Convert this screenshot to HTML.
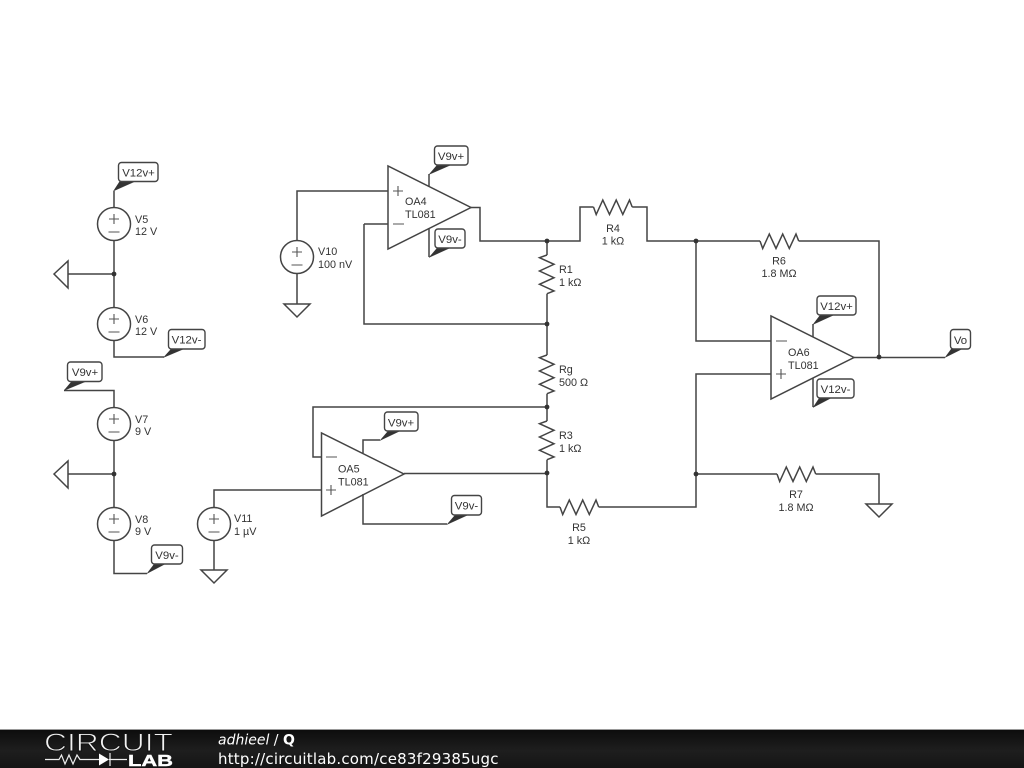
<!DOCTYPE html>
<html><head><meta charset="utf-8"><title>Q</title>
<style>
html,body{margin:0;padding:0;background:#fff;width:1024px;height:768px;overflow:hidden}
svg{display:block}
.w{fill:none;stroke:#444;stroke-width:1.5}
.s{fill:none;stroke:#555;stroke-width:1.1}
.t{font-family:"Liberation Sans",sans-serif;font-size:10.8px;fill:#333}
.l{font-size:11.4px}
.c{text-anchor:middle}
.b{fill:#fff;stroke:#444;stroke-width:1.4}
.f{fill:#333;stroke:#333;stroke-width:0.4}
.d{fill:#333;stroke:none}
</style></head><body>
<svg width="1024" height="768" viewBox="0 0 1024 768" xmlns="http://www.w3.org/2000/svg">
<defs><linearGradient id="g" x1="0" y1="0" x2="0" y2="1"><stop offset="0" stop-color="#0c0c0c"/><stop offset="0.55" stop-color="#1e1e1e"/><stop offset="1" stop-color="#151515"/></linearGradient></defs>
<rect width="1024" height="768" fill="#fff"/>

<!-- left supplies -->
<path class="w" d="M114 208V191M114 240V308M114 340V357H164M54 274L68 261V288ZM68 274H114M114 408V390.500H64M114 440V508M114 540V573.500H147M54 474L68 461V488ZM68 474H114"/>
<circle class="w" cx="114" cy="224" r="16.5"/><circle class="w" cx="114" cy="324" r="16.5"/>
<circle class="w" cx="114" cy="424" r="16.5"/><circle class="w" cx="114" cy="524" r="16.5"/>
<path class="s" d="M109 219H119M114 214V224M108.500 232H119.500M109 319H119M114 314V324M108.500 332H119.500M109 419H119M114 414V424M108.500 432H119.500M109 519H119M114 514V524M108.500 532H119.500"/>

<!-- V10, V11 -->
<path class="w" d="M297 241V191H388M297 273V304M284 304H310L297 317ZM214 508V490H321M214 540V570M201 570H227L214 583Z"/>
<circle class="w" cx="297" cy="257" r="16.5"/><circle class="w" cx="214" cy="524" r="16.5"/>
<path class="s" d="M292 252H302M297 247V257M291.500 265H302.500M209 519H219M214 514V524M208.500 532H219.500"/>

<!-- op amps -->
<path class="w" d="M388 166V249L471 207.500ZM771 316V399L854 357.500ZM321.500 433V516L404 474Z"/>
<path class="s" d="M393 191H403M398 186V196M393 224H404M776 341H787M776 374H786M781 369V379M326 457H337M326 490H336M331 485V495"/>

<!-- main wiring -->
<path class="w" d="M364 224H388M364 224V324H547M471 207.500H480V241H580V207H593.500M632.200 207H647V241H760M798.700 241H879V357M547 241V255M547 293.700V355M547 393.700V421M547 459.700V507H560M598.700 507H696V374H771M696 241V341H771M696 474H777M815.700 474H879V504M866 504H892L879 517ZM854 357.500H945M404 473.500H547M321 457H313V407H547M429 187V174M429 228V257M813 337V324M813 378V407M363 453V440H380M363 494V524H447"/>

<!-- resistors -->
<polyline class="w" points="593.500,207 596.200,214.500 602.800,200 609.500,214.500 616.200,200 622.800,214.500 629.500,200 632.200,207"/>
<polyline class="w" points="560,507 562.700,514.500 569.300,500 576,514.500 582.700,500 589.300,514.500 596,500 598.700,507"/>
<polyline class="w" points="760,241 762.700,248.500 769.300,234 776,248.500 782.700,234 789.300,248.500 796,234 798.700,241"/>
<polyline class="w" points="777,474 779.700,481.500 786.300,467 793,481.500 799.700,467 806.300,481.500 813,467 815.700,474"/>
<polyline class="w" points="547,255 539.500,257.700 554,264.300 539.500,271 554,277.700 539.500,284.300 554,291 547,293.700"/>
<polyline class="w" points="547,355 539.500,357.700 554,364.300 539.500,371 554,377.700 539.500,384.300 554,391 547,393.700"/>
<polyline class="w" points="547,421 539.500,423.700 554,430.300 539.500,437 554,443.700 539.500,450.300 554,457 547,459.700"/>

<!-- junction dots -->
<g class="d"><circle cx="114" cy="274" r="2.400"/><circle cx="114" cy="474" r="2.400"/><circle cx="547" cy="241" r="2.400"/><circle cx="547" cy="324" r="2.400"/><circle cx="547" cy="407" r="2.400"/><circle cx="547" cy="473" r="2.400"/><circle cx="696" cy="241" r="2.400"/><circle cx="696" cy="474" r="2.400"/><circle cx="879" cy="357" r="2.400"/></g>

<!-- net flags -->
<path class="f" d="M113.500 191L120 181H136ZM163.500 357.500L172 348H186ZM64 390.500L72 381H87ZM147 573.500L155 563H167ZM429 174.500L438 164H453ZM429 257.500L438 247H452ZM813 324.500L821 314H836ZM813 407.500L820 397H833ZM380 440.500L389 430H402ZM447 524.500L456 514H470ZM945 357.500L952 348H964Z"/>
<g class="b">
<rect x="118.500" y="162.500" width="39.500" height="19" rx="3"/>
<rect x="168.500" y="329.500" width="36.500" height="19.500" rx="3"/>
<rect x="67.500" y="362" width="34.500" height="19.500" rx="3"/>
<rect x="151.500" y="545" width="31" height="19" rx="3"/>
<rect x="434.500" y="146" width="33.500" height="19" rx="3"/>
<rect x="435" y="229" width="30" height="19" rx="3"/>
<rect x="817" y="296" width="39" height="19" rx="3"/>
<rect x="817" y="379" width="37" height="19" rx="3"/>
<rect x="384.500" y="412" width="33.500" height="19" rx="3"/>
<rect x="451.500" y="495.500" width="30" height="19.500" rx="3"/>
<rect x="950.500" y="329.500" width="20" height="19.500" rx="3"/>
</g>
<g class="t l c">
<text x="138.500" y="176.500">V12v+</text><text x="186.500" y="343.500">V12v-</text>
<text x="85" y="376">V9v+</text><text x="167" y="559">V9v-</text>
<text x="451" y="160">V9v+</text><text x="450" y="243">V9v-</text>
<text x="836.500" y="310">V12v+</text><text x="835.500" y="393">V12v-</text>
<text x="401" y="426.500">V9v+</text><text x="466.500" y="509.500">V9v-</text>
<text x="960.500" y="344">Vo</text>
</g>
<g class="t c">
<text x="613" y="232">R4</text><text x="613" y="244.500">1 kΩ</text>
<text x="579" y="531">R5</text><text x="579" y="544">1 kΩ</text>
<text x="779" y="264.500">R6</text><text x="779" y="277">1.8 MΩ</text>
<text x="796" y="498">R7</text><text x="796" y="511">1.8 MΩ</text>
</g>
<g class="t">
<text x="135" y="223">V5</text><text x="135" y="235">12 V</text>
<text x="135" y="323">V6</text><text x="135" y="335">12 V</text>
<text x="135" y="423">V7</text><text x="135" y="435">9 V</text>
<text x="135" y="523">V8</text><text x="135" y="535">9 V</text>
<text x="318" y="255">V10</text><text x="318" y="268">100 nV</text>
<text x="234" y="522">V11</text><text x="234" y="535">1 µV</text>
<text x="405" y="205">OA4</text><text x="405" y="218">TL081</text>
<text x="338" y="472.500">OA5</text><text x="338" y="485.500">TL081</text>
<text x="788" y="356">OA6</text><text x="788" y="369">TL081</text>
<text x="559" y="273">R1</text><text x="559" y="286">1 kΩ</text>
<text x="559" y="373">Rg</text><text x="559" y="386">500 Ω</text>
<text x="559" y="439">R3</text><text x="559" y="452">1 kΩ</text>
</g>

<!-- footer -->
<rect x="0" y="729" width="1024" height="39" fill="url(#g)"/>
<rect x="0" y="729" width="1024" height="1" fill="#999"/>
<text x="44" y="751" font-family="Liberation Sans,sans-serif" font-size="25" textLength="129" lengthAdjust="spacingAndGlyphs" fill="#f2f2f2" stroke="#141414" stroke-width="0.9">CIRCUIT</text>
<path d="M45 759.500H59L61.500 755L65 764L69 755L73 764L77 755L80 759.500H99M109 759.500H127M110 753V766" fill="none" stroke="#eee" stroke-width="1.200"/>
<path d="M99 753.500V765.500L109 759.500Z" fill="#fff"/>
<text x="128" y="766" font-family="Liberation Sans,sans-serif" font-size="15.500" font-weight="bold" textLength="45" lengthAdjust="spacingAndGlyphs" fill="#fff" stroke="#fff" stroke-width="0.4">LAB</text>
<text x="218" y="744.500" font-family="DejaVu Sans,sans-serif" font-size="14" fill="#fff"><tspan font-style="oblique">adhieel</tspan> / <tspan font-weight="bold">Q</tspan></text>
<text x="218" y="764" font-family="DejaVu Sans,sans-serif" font-size="15" textLength="280.500" fill="#fff">http://circuitlab.com/ce83f29385ugc</text>
</svg>
</body></html>
